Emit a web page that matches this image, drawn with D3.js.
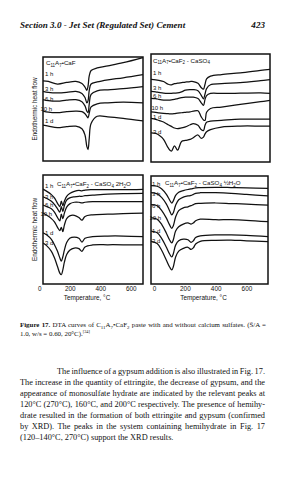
<!DOCTYPE html>
<html><head><meta charset="utf-8">
<script src="https://cdn.jsdelivr.net/npm/d3@7"></script>
<style>
html,body{margin:0;padding:0;background:#fff;}
svg{display:block;}
text{white-space:pre;}
</style></head><body>
<svg id="c" width="284" height="480"></svg>
<script>
// ---------------- DATA ----------------
const headerText = "Section 3.0 - Jet Set (Regulated Set) Cement";
const pageNumber = "423";
const panelTitles = [
  "C_{11}A_{7}•CaF",
  "C_{11}A_{7}•CaF_{2} - CaSO_{4}",
  "C_{11}A_{7}•CaF_{2} - CaSO_{4} 2H_{2}O",
  "C_{11}A_{7}•CaF_{2} - CaSO_{4} ½H_{2}O"
];
const yAxisTitle = "Endothermic heat flow";
const xAxisTitle = "Temperature, °C";
const tempTicks = [0, 200, 400, 600];
const curveLabelsTL = ["1 h", "3 h", "6 h", "10 h", "1 d"];
const curveLabels = ["1 h", "3 h", "6 h", "10 h", "1 d", "3 d"];

// C11A7·CaF2
const tempsTL = [25, 60, 120, 180, 240, 280, 300, 312, 320, 328, 340, 380, 450, 550, 680];
const flowTL = [
  [77, 76.5, 74, 75.5, 76.5, 74.5, 71, 68, 72, 82, 87, 89.5, 91.5, 94.5, 99.5],
  [67, 66, 65.5, 66, 67, 65, 61, 56, 58, 68, 74, 76, 78, 80, 83],
  [59, 58, 57.5, 58.5, 59, 57, 53, 48, 46.5, 55, 64, 67.5, 68.5, 69.5, 71.5],
  [48, 47, 46.5, 47.5, 48, 47.5, 45.5, 43, 41.5, 46, 52, 55, 56, 56.5, 56],
  [34.5, 33.5, 32, 33, 33.5, 31, 25, 14, 11, 22, 36, 43, 42.5, 41, 38.5]
];
// C11A7·CaF2 - CaSO4
const tempsTR = [-20, 10, 30, 60, 90, 110, 130, 150, 175, 200, 230, 250, 280, 300, 315, 325, 335, 360, 430, 550, 680, 740];
const flowTR = [
  [76.5, 76, 75.5, 74.5, 72, 71.5, 72.5, 73, 73.5, 74, 74.5, 74.5, 73, 69, 67.5, 72, 77, 79.5, 81, 82.5, 84.8, 85.7],
  [65.5, 65, 64.5, 63.8, 63.5, 63.5, 63.8, 64, 65, 66.5, 67, 67, 66, 62, 58.5, 63, 68, 71.5, 72.5, 73.5, 75.3, 76.2],
  [59, 58.7, 58, 57.3, 57.3, 57.5, 58, 58.7, 59.5, 60, 60, 60, 58.7, 55, 52.5, 58, 61.5, 63.5, 63.5, 63.7, 64, 63.5],
  [46.5, 46, 45.5, 45, 44.7, 44.5, 44.8, 45.3, 45.6, 46, 46.5, 47, 47.5, 42, 39, 38.5, 46, 49.5, 50.8, 53.3, 55.8, 57],
  [40.5, 39.5, 38.5, 37, 34.5, 33, 31.5, 30.8, 31.5, 32.5, 34.5, 35.5, 34, 30, 29, 34, 36.8, 37.8, 38.5, 39.7, 39.7, 39.7],
  [27, 26.5, 25, 21, 13, 10, 15, 11, 19, 20, 21, 22.5, 25, 22, 23, 26, 28, 30, 32.4, 33.3, 33.3, 33.3]
];
// C11A7·CaF2 - CaSO4·2H2O
const tempsBL = [25, 50, 80, 100, 120, 135, 145, 155, 165, 180, 200, 230, 260, 280, 300, 350, 450, 550, 680];
const flowBL = [
  [87, 85, 82, 79, 74, 71, 76, 72, 76, 80.5, 83, 85, 86, 85.5, 86.2, 86.5, 86.5, 86.5, 86.9],
  [80, 78.5, 76, 73, 69, 66, 71, 66.5, 72, 77, 79, 80, 80.5, 80.5, 81, 81.5, 82.5, 83, 83.2],
  [72.5, 71, 69, 66, 61, 58, 64, 60, 65, 70.5, 73.5, 75, 75, 74.5, 75, 75.5, 75.5, 75.5, 75.5],
  [65, 63, 60, 57, 52, 49, 52, 48, 54, 60, 62.5, 63, 61, 58.5, 62, 63.5, 64, 64.5, 65],
  [47, 45, 41, 36, 30, 24, 21, 25, 31, 38, 42, 43, 42, 38.5, 42, 43.5, 44, 44, 43.5],
  [37.5, 35, 30, 24, 16, 10, 8.5, 13, 20, 27, 31, 33, 32.5, 30, 34, 35.8, 36, 36, 35.8]
];
// C11A7·CaF2 - CaSO4·½H2O
const tempsBR = [-20, 20, 50, 80, 100, 115, 125, 140, 160, 190, 220, 240, 255, 270, 300, 400, 500, 600, 740];
const flowBR = [
  [91, 90.5, 88, 83, 78, 75, 77, 82, 85, 86.5, 87.5, 88, 88.5, 89, 89.2, 89.5, 89.3, 89, 88.6],
  [84.5, 83.5, 80, 74, 68, 64, 66, 73, 78, 80.5, 81.5, 82, 83, 84, 84.5, 84.5, 84, 83, 81.5],
  [73.5, 72.5, 68, 61, 55, 51.5, 54, 62, 68, 70.5, 71.5, 72.5, 73.5, 74.5, 74.7, 75, 74.5, 74, 73],
  [61.5, 60, 55, 47, 41, 38, 41, 49, 53, 55.5, 56.5, 55.5, 56.5, 58.5, 60, 59.5, 59.5, 59, 57.7],
  [49, 47.5, 42, 34, 28, 25, 28, 36, 40, 41.5, 41, 38.5, 40, 43, 44.5, 45.5, 45.4, 45, 43.8],
  [39.5, 37.5, 31, 22, 16, 13, 16, 25, 30.5, 33, 34, 32, 33.5, 37, 39.5, 40.5, 40.7, 40, 39.2]
];

const captionLines = [
  "*{Figure 17.} DTA curves of C_{11}A_{7}•CaF_{2} paste with and without calcium sulfates. (S̄/A =",
  "1.0, w/s = 0.60, 20°C).^{[34]}"
];
const bodyLines = [
  "The influence of a gypsum addition is also illustrated in Fig. 17.",
  "The increase in the quantity of ettringite, the decrease of gypsum, and the",
  "appearance of monosulfate hydrate are indicated by the relevant peaks at",
  "120°C (270°C), 160°C, and 200°C respectively. The presence of hemihy-",
  "drate resulted in the formation of both ettringite and gypsum (confirmed",
  "by XRD). The peaks in the system containing hemihydrate in Fig. 17",
  "(120–140°C, 270°C) support the XRD results."
];

// ---------------- LAYOUT ----------------
const SANS = "'Liberation Sans', Arial, sans-serif";
const SERIF = "'Liberation Serif', 'Times New Roman', serif";
const svg = d3.select("#c");

function rich(sel, str, fs) {
  let cur = 0;
  str.split(/(_\{[^}]*\}|\^\{[^}]*\}|\*\{[^}]*\})/).forEach(part => {
    if (!part) return;
    let target = 0, txt = part, size = fs, bold = false;
    if (part.startsWith("_{")) { target = fs * 0.3; txt = part.slice(2, -1); size = fs * 0.72; }
    else if (part.startsWith("^{")) { target = -fs * 0.42; txt = part.slice(2, -1); size = fs * 0.62; }
    else if (part.startsWith("*{")) { txt = part.slice(2, -1); bold = true; }
    const t = sel.append("tspan").attr("dy", target - cur).attr("font-size", size).text(txt);
    if (bold) t.attr("font-weight", "bold");
    cur = target;
  });
}
function justify(sel, x0, x1) {
  const node = sel.node();
  const w = node.getComputedTextLength();
  const spaces = (node.textContent.match(/ /g) || []).length;
  if (spaces > 0) sel.attr("word-spacing", (x1 - x0 - w) / spaces);
}

// header
svg.append("text").attr("x", 20).attr("y", 28).attr("font-family", SERIF)
  .attr("font-size", 9.1).attr("font-weight", "bold").attr("font-style", "italic").attr("fill", "#111").text(headerText);
svg.append("text").attr("x", 265).attr("y", 28).attr("text-anchor", "end").attr("font-family", SERIF)
  .attr("font-size", 9.1).attr("font-weight", "bold").attr("font-style", "italic").attr("fill", "#111").text(pageNumber);

const panels = [
  { x0: 43, x1: 143, y0: 57, y1: 161, xd: [25, 680], temps: tempsTL, flows: flowTL, labels: curveLabelsTL,
    labelY: [75.5, 90.5, 100.5, 110.5, 122.5], labelX: 45, tenX: 40.5, title: panelTitles[0], tx: 46, ty: 65 },
  { x0: 151, x1: 270, y0: 54, y1: 162, xd: [-20, 740], temps: tempsTR, flows: flowTR, labels: curveLabels,
    labelY: [74.5, 89.5, 97.5, 109.5, 118.5, 133.5], labelX: 153, tenX: 151.5, title: panelTitles[1], tx: 153, ty: 62.5 },
  { x0: 43, x1: 143, y0: 175, y1: 284, xd: [25, 680], temps: tempsBL, flows: flowBL, labels: curveLabels,
    labelY: [187.5, 198.5, 206.5, 215.5, 234.5, 244.5], labelX: 45, tenX: 40.5, title: panelTitles[2], tx: 57, ty: 186 },
  { x0: 151, x1: 268, y0: 176, y1: 284, xd: [-20, 740], temps: tempsBR, flows: flowBR, labels: curveLabels,
    labelY: [185.5, 195.5, 207.5, 219.5, 232.5, 242.5], labelX: 152, tenX: 149.5, title: panelTitles[3], tx: 165, ty: 185 }
];

panels.forEach((p, pi) => {
  const g = svg.append("g");
  const x = d3.scaleLinear().domain(p.xd).range([p.x0, p.x1]);
  const y = d3.scaleLinear().domain([0, 100]).range([p.y1, p.y0]);
  const cid = "clip" + pi;
  svg.append("clipPath").attr("id", cid).append("rect")
    .attr("x", p.x0).attr("y", p.y0).attr("width", p.x1 - p.x0).attr("height", p.y1 - p.y0);
  const line = d3.line().x(d => x(d[0])).y(d => y(d[1])).curve(d3.curveCatmullRom.alpha(0.5));
  const cg = g.append("g").attr("clip-path", `url(#${cid})`);
  p.flows.forEach(f => {
    cg.append("path").attr("d", line(p.temps.map((t, i) => [t, f[i]])))
      .attr("fill", "none").attr("stroke", "#111").attr("stroke-width", 1.25).attr("stroke-linejoin", "round");
  });
  g.append("rect").attr("x", p.x0).attr("y", p.y0).attr("width", p.x1 - p.x0).attr("height", p.y1 - p.y0)
    .attr("fill", "none").attr("stroke", "#111").attr("stroke-width", 1.5);
  // title
  const tt = g.append("text").attr("x", p.tx).attr("y", p.ty).attr("font-family", SANS).attr("font-size", 6.2).attr("fill", "#111");
  rich(tt, p.title, 6.2);
  // curve labels
  p.labels.forEach((lab, i) => {
    g.append("text").attr("x", lab === "10 h" ? p.tenX : p.labelX).attr("y", p.labelY[i])
      .attr("font-family", SANS).attr("font-size", 6).attr("fill", "#111").text(lab);
  });
  // y axis title
  if (pi % 2 === 0) {
    const cy = (p.y0 + p.y1) / 2;
    g.append("text").attr("transform", `translate(37,${cy}) rotate(-90)`).attr("text-anchor", "middle")
      .attr("font-family", SANS).attr("font-size", 6.4).attr("fill", "#111").text(yAxisTitle);
  }
  // x axis
  if (pi >= 2) {
    const ax = g.append("g").attr("transform", `translate(0,${p.y1})`)
      .call(d3.axisBottom(x).tickValues(tempTicks).tickSize(0).tickPadding(2).tickFormat(d3.format("d")));
    ax.select(".domain").remove();
    ax.selectAll("text").attr("font-family", SANS).attr("font-size", 6.4).attr("fill", "#111");
    g.append("text").attr("x", (p.x0 + p.x1) / 2 - 6).attr("y", p.y1 + 16).attr("text-anchor", "middle")
      .attr("font-family", SANS).attr("font-size", 6.4).attr("fill", "#111").text(xAxisTitle);
  }
});

// caption
captionLines.forEach((l, i) => {
  const t = svg.append("text").attr("x", 20).attr("y", 327 + i * 8.5).attr("font-family", SERIF)
    .attr("font-size", 6.9).attr("fill", "#111");
  rich(t, l, 6.9);
  if (i === 0) justify(t, 20, 266);
});

// body
bodyLines.forEach((l, i) => {
  const x0 = i === 0 ? 57 : 20;
  const t = svg.append("text").attr("x", x0).attr("y", 374 + i * 11).attr("font-family", SERIF)
    .attr("font-size", 8.3).attr("fill", "#111").text(l);
  if (i < bodyLines.length - 1) justify(t, x0, 265);
});
</script>
</body></html>
